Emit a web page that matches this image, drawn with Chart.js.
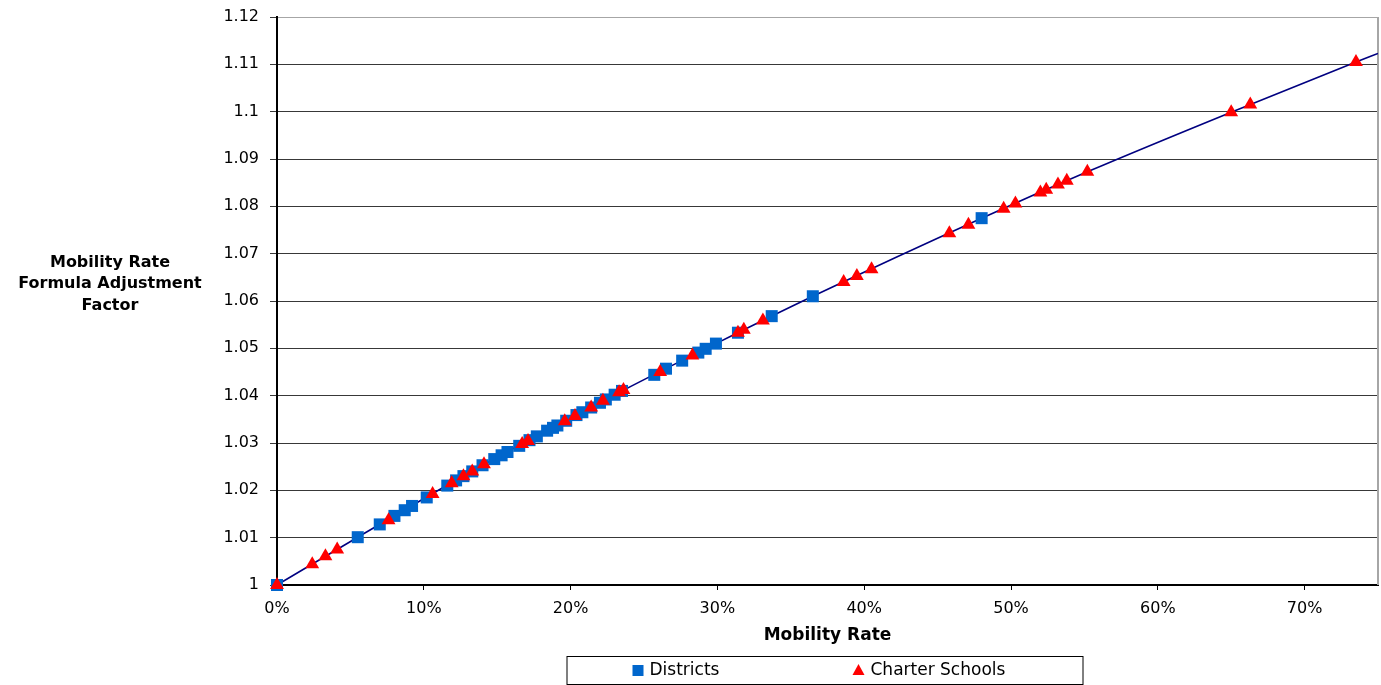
<!DOCTYPE html>
<html>
<head>
<meta charset="utf-8">
<script src="https://cdn.jsdelivr.net/npm/chart.js@4.4.0/dist/chart.umd.min.js"></script>
<style>
  html, body { margin: 0; padding: 0; background: #fff; }
  #wrap { width: 1381px; height: 685px; }
</style>
</head>
<body>
<div id="wrap"><canvas id="mobilityChart" width="1381" height="685"></canvas></div>
<script>
  // values (rate as a fraction, factor)
  const districtsRate = [0, 0.055, 0.070, 0.080, 0.087, 0.092, 0.102, 0.116, 0.122, 0.127, 0.133, 0.140,
    0.148, 0.153, 0.157, 0.165, 0.172, 0.177, 0.184, 0.188, 0.191, 0.197, 0.204, 0.208, 0.214, 0.220,
    0.224, 0.230, 0.235, 0.257, 0.265, 0.276, 0.287, 0.292, 0.299, 0.314, 0.337, 0.365, 0.480];
  const districtsFactor = [1.0000, 1.0101, 1.0128, 1.0146, 1.0158, 1.0167, 1.0185, 1.0210, 1.0221, 1.0230, 1.0240, 1.0253,
    1.0266, 1.0274, 1.0281, 1.0294, 1.0306, 1.0314, 1.0326, 1.0332, 1.0337, 1.0347, 1.0359, 1.0365, 1.0375, 1.0385,
    1.0392, 1.0402, 1.0410, 1.0444, 1.0457, 1.0474, 1.0491, 1.0499, 1.0510, 1.0533, 1.0568, 1.0610, 1.0775];

  const charterRate = [0, 0.024, 0.033, 0.041, 0.076, 0.106, 0.119, 0.127, 0.133, 0.141, 0.167, 0.171,
    0.196, 0.203, 0.214, 0.222, 0.233, 0.236, 0.261, 0.283, 0.314, 0.318, 0.331, 0.386, 0.395, 0.405,
    0.458, 0.471, 0.495, 0.503, 0.520, 0.524, 0.532, 0.538, 0.552, 0.650, 0.663, 0.735];
  const charterFactor = [1.0000, 1.0044, 1.0061, 1.0075, 1.0137, 1.0192, 1.0215, 1.0230, 1.0240, 1.0255, 1.0298, 1.0304,
    1.0346, 1.0357, 1.0375, 1.0389, 1.0407, 1.0412, 1.0450, 1.0485, 1.0533, 1.0539, 1.0559, 1.0640, 1.0653, 1.0667,
    1.0743, 1.0761, 1.0795, 1.0806, 1.0829, 1.0835, 1.0846, 1.0854, 1.0873, 1.0999, 1.1015, 1.1105];

  // the formula curve
  const curveRate = [0, 0.055, 0.140, 0.235, 0.299, 0.365, 0.480, 0.552, 0.650, 0.735, 0.750];
  const curveFactor = [1.0000, 1.0101, 1.0253, 1.0410, 1.0510, 1.0610, 1.0775, 1.0873, 1.0999, 1.1105, 1.1123];

  const seriesNames = ['Districts', 'Charter Schools'];
  const yTitleLines = ['Mobility Rate', 'Formula Adjustment', 'Factor'];
  const xTitle = 'Mobility Rate';

  const toPoints = (xs, ys) => xs.map((x, i) => ({ x: x, y: ys[i] }));

  const FONT = 'DejaVu Sans';
  const BLUE = '#0066CC';
  const RED = '#FF0000';

  // horizontal y-axis title on the left
  const yTitlePlugin = {
    id: 'yTitle',
    afterDraw(chart) {
      const ctx = chart.ctx;
      const area = chart.chartArea;
      ctx.save();
      ctx.font = 'bold 16px ' + FONT;
      ctx.fillStyle = '#000';
      ctx.textAlign = 'center';
      ctx.textBaseline = 'middle';
      const cx = area.left - 167;
      const cy = area.top + 267;
      yTitleLines.forEach((t, i) => ctx.fillText(t, cx, cy + (i - 1) * 21.5));
      ctx.restore();
    }
  };

  // grey right border of the plot
  const framePlugin = {
    id: 'frame',
    beforeDatasetsDraw(chart) {
      const ctx = chart.ctx;
      const a = chart.chartArea;
      ctx.save();
      ctx.strokeStyle = '#a6a6a6';
      ctx.lineWidth = 2;
      ctx.beginPath();
      ctx.moveTo(a.right, a.top);
      ctx.lineTo(a.right, a.bottom);
      ctx.stroke();
      ctx.restore();
    }
  };

  // boxed legend under the x title
  const boxLegendPlugin = {
    id: 'boxLegend',
    afterDraw(chart) {
      const ctx = chart.ctx;
      const a = chart.chartArea;
      const cx = (a.left + a.right) / 2 - 3;
      const top = chart.height - 29;
      const cy = top + 15;
      ctx.save();
      ctx.strokeStyle = '#000';
      ctx.lineWidth = 1;
      ctx.strokeRect(cx - 258 + 0.5, top + 0.5, 516, 28);

      // square
      ctx.fillStyle = BLUE;
      ctx.fillRect(cx - 192, cy - 6, 11, 11);
      // triangle
      ctx.fillStyle = RED;
      ctx.beginPath();
      ctx.moveTo(cx + 34, cy - 7);
      ctx.lineTo(cx + 40, cy + 4);
      ctx.lineTo(cx + 28, cy + 4);
      ctx.closePath();
      ctx.fill();

      ctx.fillStyle = '#000';
      ctx.font = '17px ' + FONT;
      ctx.textAlign = 'left';
      ctx.textBaseline = 'middle';
      ctx.fillText(chart.data.datasets[0].label, cx - 175, cy);
      ctx.fillText(chart.data.datasets[1].label, cx + 46, cy);
      ctx.restore();
    }
  };

  const ctx = document.getElementById('mobilityChart').getContext('2d');
  const mobilityChart = new Chart(ctx, {
    type: 'scatter',
    data: {
      datasets: [
        {
          label: seriesNames[0],
          data: toPoints(districtsRate, districtsFactor),
          pointStyle: 'rect',
          pointRadius: 8.5,
          backgroundColor: BLUE,
          borderColor: BLUE,
          borderWidth: 0,
          clip: false,
          order: 1
        },
        {
          label: seriesNames[1],
          data: toPoints(charterRate, charterFactor),
          pointStyle: 'triangle',
          pointRadius: 8,
          backgroundColor: RED,
          borderColor: RED,
          borderWidth: 0,
          clip: false,
          order: 0
        },
        {
          label: 'curve',
          data: toPoints(curveRate, curveFactor),
          showLine: true,
          pointRadius: 0,
          borderColor: '#000080',
          borderWidth: 1.6,
          cubicInterpolationMode: 'monotone',
          order: 2
        }
      ]
    },
    options: {
      responsive: false,
      animation: false,
      layout: { autoPadding: false, padding: { top: 17, right: 3, bottom: 39, left: 0 } },
      plugins: {
        legend: { display: false },
        tooltip: { enabled: false },
        title: { display: false }
      },
      scales: {
        x: {
          type: 'linear',
          min: 0,
          max: 0.75,
          afterFit: (scale) => {
            scale.height = 61;
            scale.paddingLeft = 0;
            scale.paddingRight = 0;
          },
          ticks: {
            stepSize: 0.1,
            includeBounds: false,
            padding: 9,
            color: '#000',
            font: { family: FONT, size: 16 },
            callback: (v) => Math.round(v * 100) + '%'
          },
          grid: {
            drawOnChartArea: false,
            drawTicks: true,
            tickLength: 5,
            color: '#000'
          },
          border: { color: '#000', width: 2 },
          title: {
            display: true,
            text: xTitle,
            color: '#000',
            font: { family: FONT, size: 17, weight: 'bold' },
            padding: { top: 0, bottom: 0 }
          }
        },
        y: {
          min: 1,
          max: 1.12,
          afterFit: (scale) => {
            scale.width = 277;
            scale.paddingTop = 0;
            scale.paddingBottom = 0;
          },
          ticks: {
            stepSize: 0.01,
            padding: 11,
            color: '#000',
            font: { family: FONT, size: 16 },
            callback: (v) => String(parseFloat(v.toFixed(2)))
          },
          grid: {
            color: (c) => (c.tick && c.tick.value > 1.1195 ? '#a6a6a6' : '#383838'),
            lineWidth: 1,
            tickLength: 7,
            tickColor: '#383838'
          },
          border: { color: '#000', width: 2 }
        }
      }
    },
    plugins: [framePlugin, yTitlePlugin, boxLegendPlugin]
  });
</script>
</body>
</html>
